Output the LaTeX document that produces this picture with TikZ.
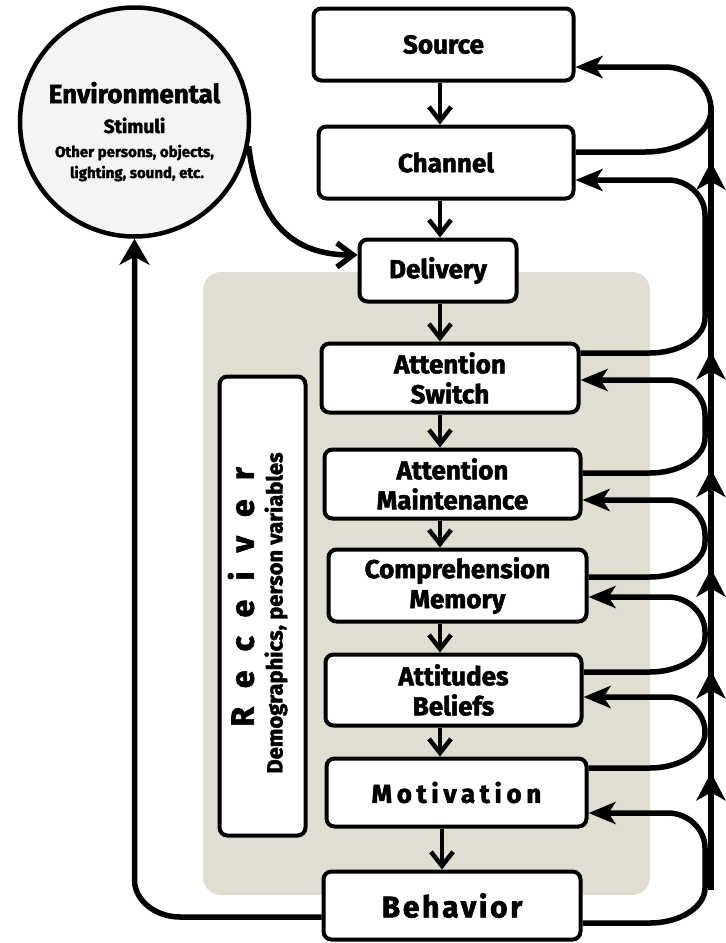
\documentclass[tikz,border=0pt]{standalone}
\usepackage{fontspec}
\setmainfont{Fira Sans}[BoldFeatures={FakeBold=2}]
\usetikzlibrary{arrows.meta,decorations.markings}
\definecolor{panel}{RGB}{224,222,209}
\definecolor{discfill}{RGB}{244,244,244}
\tikzset{uptip/.tip={Stealth[length=28pt,width=29pt,inset=8pt]}}

\begin{document}
\begin{tikzpicture}[x=1pt,y=-1pt,
  stage/.style={draw, line width=4pt, rounded corners=8pt, fill=white,
    inner sep=0pt, align=center, font=\fontsize{26}{30}\selectfont\bfseries},
  disc/.style={draw, circle, line width=4.5pt, fill=discfill, inner sep=0pt, minimum size=229pt},
  disctext/.style={anchor=base, inner sep=0pt, font=\bfseries},
  link/.style={line width=4.5pt, -{Straight Barb[length=14pt,width=22pt]}},
  feedin/.style={line width=5.5pt, -{Stealth[length=27pt,width=22pt,inset=7pt]}},
  rail/.style={line width=6pt, postaction={decorate}, decoration={markings,
    mark=at position 0.150 with {\arrow{uptip}},
    mark=at position 0.280 with {\arrow{uptip}},
    mark=at position 0.410 with {\arrow{uptip}},
    mark=at position 0.537 with {\arrow{uptip}},
    mark=at position 0.687 with {\arrow{uptip}},
    mark=at position 0.929 with {\arrow{uptip}}}},
  envlink/.style={line width=5.5pt, -{Straight Barb[length=16pt,width=24pt]}},
  backlink/.style={line width=5.5pt, -{Stealth[length=26pt,width=30pt,inset=8pt]}}
]
\useasboundingbox (0,0) rectangle (726,943);

% receiver panel behind the receiver stages
\fill[panel, rounded corners=18pt] (203,272) rectangle (650,895);

% environmental stimuli
\node[disc] (env) at (134.5,122) {};
\node[disctext, font=\fontsize{26}{26}\selectfont\bfseries] (envtitle) at (134.5,103) {Environmental};
\node[disctext, font=\fontsize{19}{19}\selectfont\bfseries] (envsub) at (134.5,133) {Stimuli};
\node[disctext, font=\fontsize{15}{15}\selectfont\bfseries] (envline1) at (134.5,157) {Other persons, objects,};
\node[disctext, font=\fontsize{15}{15}\selectfont\bfseries] (envline2) at (137,178) {lighting, sound, etc.};

% stages
\node[stage, minimum width=260pt, minimum height=72pt] (src)   at (443.5,44.5)  {Source};
\node[stage, minimum width=255pt, minimum height=72pt] (chan)  at (446,162.5)   {Channel};
\node[stage, minimum width=157pt, minimum height=62pt] (deliv) at (438,270.5)   {Delivery};
\node[stage, minimum width=257pt, minimum height=69pt] (asw)   at (450,378)     {Attention\\Switch};
\node[stage, minimum width=256pt, minimum height=69pt] (amt)   at (452.5,484)   {Attention\\Maintenance};
\node[stage, minimum width=258pt, minimum height=72pt] (comp)  at (457.5,585.5) {Comprehension\\Memory};
\node[stage, minimum width=256pt, minimum height=71pt] (att)   at (453.5,690)   {Attitudes\\Beliefs};
\node[stage, minimum width=260pt, minimum height=68pt,
      font=\fontsize{26}{30}\selectfont\bfseries\addfontfeature{LetterSpace=18}] (mot) at (456.5,792.5) {Motivation};
\node[stage, minimum width=257pt, minimum height=68pt,
      font=\fontsize{30}{30}\selectfont\bfseries\addfontfeature{LetterSpace=9}] (beh) at (452,905.5) {Behavior};

% receiver box
\node[draw, line width=4pt, rounded corners=8pt, fill=white, inner sep=0pt,
      minimum width=86pt, minimum height=459pt] (recv) at (262.5,606) {};
\node[rotate=90, inner sep=0pt,
      font=\fontsize{32}{32}\selectfont\bfseries\addfontfeature{LetterSpace=60}] (recvtitle) at (241,597) {Receiver};
\node[rotate=90, inner sep=0pt, font=\fontsize{22}{22}\selectfont\bfseries] (recvsub) at (276,613) {Demographics, person variables};

% forward chain
\draw[link] (src.south -| 440,0)   -- (chan.north -| 440,0);
\draw[link] (chan.south -| 440,0)  -- (deliv.north -| 440,0);
\draw[link] (deliv.south -| 440,0) -- (asw.north -| 440,0);
\draw[link] (asw.south -| 440,0)   -- (amt.north -| 440,0);
\draw[link] (amt.south -| 440,0)   -- (comp.north -| 440,0);
\draw[link] (comp.south -| 440,0)  -- (att.north -| 440,0);
\draw[link] (att.south -| 440,0)   -- (mot.north -| 440,0);
\draw[link] (mot.south -| 442,0)   -- (beh.north -| 442,0);

% environment into delivery
\draw[envlink] (env.-12) .. controls (258,225) and (295,255) .. (deliv.west |- 0,255);

% behaviour back to the environment
\draw[backlink] (beh.west |- 0,917) -- (180,917)
  .. controls (155,917) and (env.south |- 0,900) .. (env.south |- 0,880) -- (env.south);

% feedback rail on the right
\coordinate (railbot) at (711,890);
\coordinate (railtop) at (711,106);
\draw[rail] (railbot) -- (railtop);

% feedback loops between neighbouring stages
\draw[feedin] (chan.east |- 0,152) -- (645,152)
  .. controls (681,152) and (711,133) .. (711,110)
  .. controls (711,86) and (690,67) .. (665,67) -- (src.east |- 0,67);
\draw[feedin] (asw.east |- 0,353) -- (650,353)
  .. controls (680,353) and (705,337) .. (705,318) -- (705,215)
  .. controls (705,196) and (688,180) .. (668,180) -- (chan.east |- 0,180);
\draw[feedin] (amt.east |- 0,473) -- (650,473)
  .. controls (680,473) and (705,457) .. (705,438) -- (705,415)
  .. controls (705,396) and (688,380) .. (668,380) -- (asw.east |- 0,380);
\draw[feedin] (comp.east |- 0,577) -- (650,577)
  .. controls (680,577) and (705,561) .. (705,542) -- (705,535)
  .. controls (705,516) and (688,500) .. (668,500) -- (amt.east |- 0,500);
\draw[feedin] (att.east |- 0,672) -- (650,672)
  .. controls (680,672) and (705,656) .. (705,637) -- (705,632)
  .. controls (705,613) and (688,597) .. (668,597) -- (comp.east |- 0,597);
\draw[feedin] (mot.east |- 0,768) -- (650,768)
  .. controls (680,768) and (705,752) .. (705,733) -- (705,732)
  .. controls (705,713) and (688,697) .. (668,697) -- (att.east |- 0,697);
\draw[feedin] (beh.east |- 0,923) -- (650,923)
  .. controls (680,923) and (705,907) .. (705,888) -- (705,848)
  .. controls (705,829) and (688,813) .. (668,813) -- (mot.east |- 0,813);
\end{tikzpicture}
\end{document}
